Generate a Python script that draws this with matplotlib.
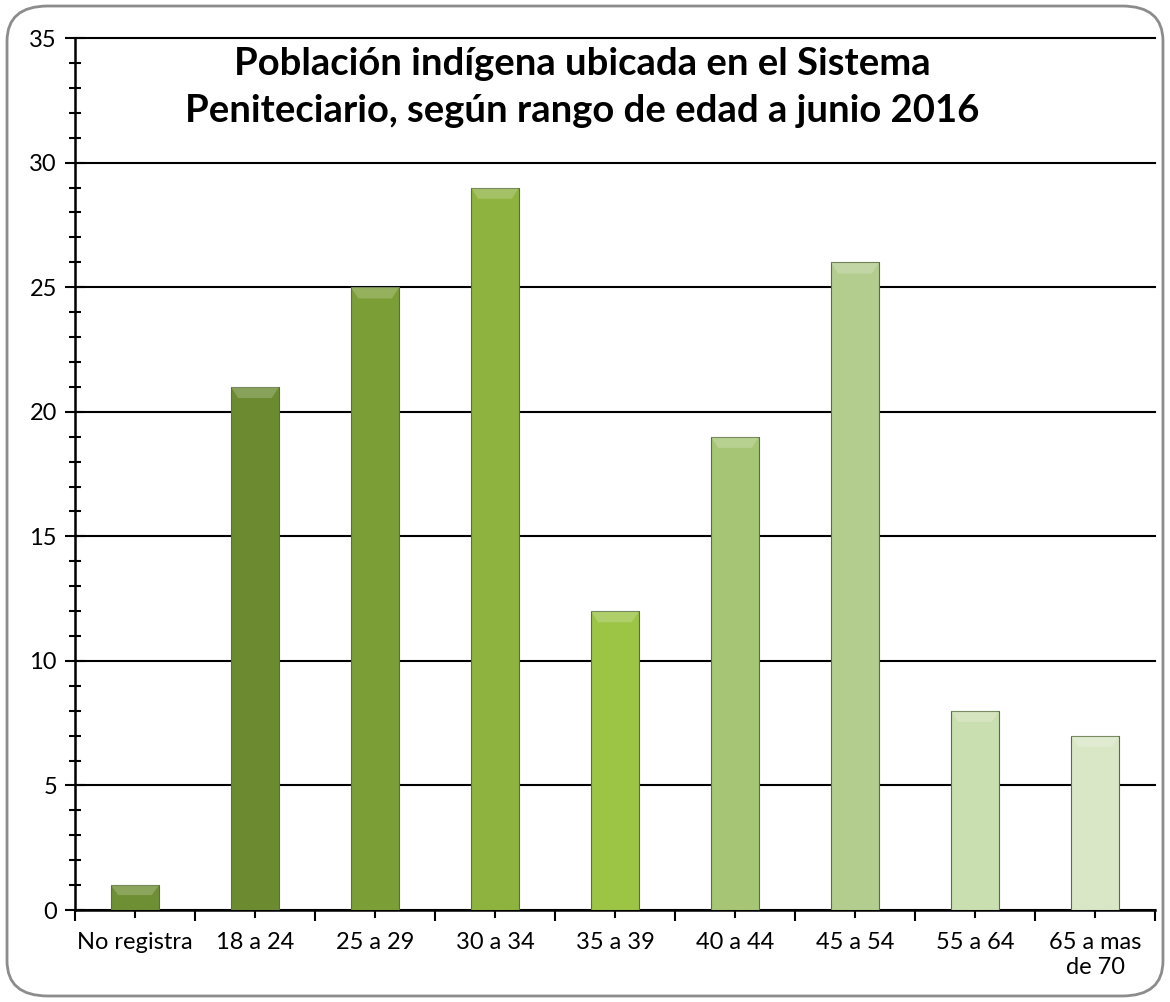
import numpy as np
import matplotlib.pyplot as plt
from matplotlib.patches import FancyBboxPatch, Polygon
from matplotlib.ticker import MultipleLocator

# ---------------- Data ----------------
categories = ["No registra", "18 a 24", "25 a 29", "30 a 34", "35 a 39",
              "40 a 44", "45 a 54", "55 a 64", "65 a mas\nde 70"]
values = [1, 21, 25, 29, 12, 19, 26, 8, 7]
bar_colors = ["#6f8f34", "#6c8b30", "#7b9e37", "#8eb33f", "#9cc445",
              "#a6c676", "#b3cd8f", "#cadfb0", "#d9e7c6"]

title = "Población indígena ubicada en el Sistema\nPeniteciario, según rango de edad a junio 2016"

plt.rcParams['font.family'] = ['Lato', 'DejaVu Sans']

fig = plt.figure(figsize=(11.7, 10.02), dpi=100)
ax = fig.add_axes([0.0641, 0.0918, 0.9231, 0.8702])

# rounded chart border
fig.patches.append(FancyBboxPatch((0.006, 0.006), 0.988, 0.988,
                                  boxstyle="round,pad=0,rounding_size=0.035",
                                  transform=fig.transFigure, fill=False,
                                  edgecolor="#8c8c8c", linewidth=2))

x = np.arange(len(categories))
width = 0.4
ax.bar(x, values, width=width, color=bar_colors, edgecolor="#5a6e3a",
       linewidth=0.8, zorder=3)

# bevel highlight on top of each bar
for xi, v, c in zip(x, values, bar_colors):
    bh = min(0.45, v * 0.4)
    inset = width * 0.15
    ax.add_patch(Polygon([(xi - width / 2, v), (xi + width / 2, v),
                          (xi + width / 2 - inset, v - bh), (xi - width / 2 + inset, v - bh)],
                         closed=True, facecolor="white", alpha=0.2, edgecolor="none", zorder=4))

ax.set_xlim(-0.5, len(categories) - 0.5)
ax.set_ylim(0, 35)
ax.yaxis.set_major_locator(MultipleLocator(5))
ax.yaxis.set_minor_locator(MultipleLocator(1))
ax.grid(axis='y', which='major', color='black', linewidth=1.5, zorder=0)
for gl in ax.get_ygridlines():
    gl.set_clip_on(False)

for s in ['top', 'right']:
    ax.spines[s].set_visible(False)
ax.spines['left'].set_linewidth(1.8)
ax.spines['bottom'].set_linewidth(1.8)

ax.tick_params(axis='y', which='both', direction='inout', width=1.5, labelsize=17, pad=6)
ax.tick_params(axis='y', which='major', length=14)
ax.tick_params(axis='y', which='minor', length=9)

# x ticks: boundaries going down, category centers crossing
ax.set_xticks(np.arange(len(categories) + 1) - 0.5)
ax.set_xticklabels([])
ax.tick_params(axis='x', which='major', direction='out', length=8, width=1.5)
ax.set_xticks(x, minor=True)
ax.set_xticklabels(categories, minor=True, fontsize=17)
ax.tick_params(axis='x', which='minor', direction='inout', length=12, width=1.5, pad=10)
for lbl in ax.get_xticklabels(minor=True):
    lbl.set_multialignment('center')

fig.text(0.498, 0.953, title, ha='center', va='top', fontsize=27.5,
         fontweight='bold', linespacing=1.45)

fig.savefig("out.png", dpi=100)
